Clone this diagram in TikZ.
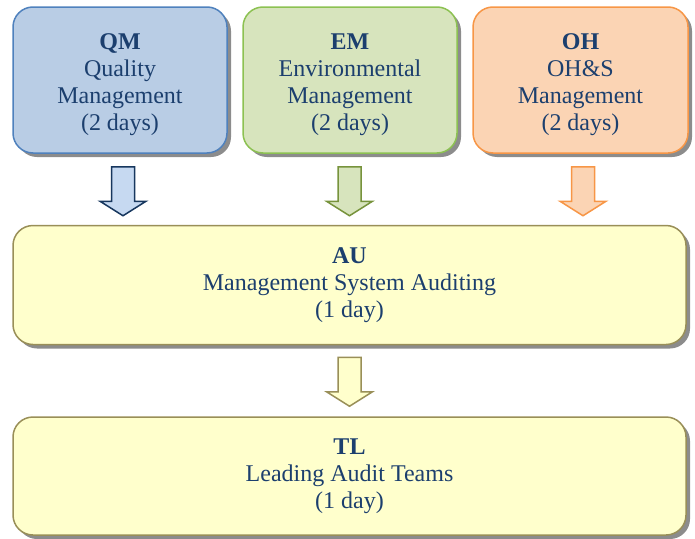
\documentclass[tikz,border=0pt]{standalone}
\usepackage{fontspec}
\setmainfont{Liberation Serif}
\usetikzlibrary{calc,shadows}
\definecolor{txt}{HTML}{1C3F6E}
\definecolor{qmfill}{HTML}{B9CDE5}\definecolor{qmline}{HTML}{4F81BD}
\definecolor{emfill}{HTML}{D7E4BD}\definecolor{emline}{HTML}{8CC152}
\definecolor{ohfill}{HTML}{FBD4B4}\definecolor{ohline}{HTML}{F79646}
\definecolor{aufill}{HTML}{FFFFCC}\definecolor{auline}{HTML}{998F58}
\definecolor{qmarr}{HTML}{C6D9F1}\definecolor{qmarrline}{HTML}{17375E}
\definecolor{emarrline}{HTML}{77933C}
\newcommand\topstrut{\rule{0pt}{25pt}}
\tikzset{
  boxbase/.style={rounded corners=20pt, line width=1.5pt, align=center, text=txt,
    font=\fontsize{24}{27}\selectfont, inner sep=0pt,
    drop shadow={shadow xshift=4pt, shadow yshift=-4pt, fill=black!50, opacity=0.9}},
  topbox/.style={boxbase, minimum width=214pt, minimum height=146pt},
  widebox/.style={boxbase, minimum width=673pt, minimum height=119pt, draw=auline, fill=aufill},
  arrbase/.style={line width=1.5pt, line join=miter}
}
\newcommand\blockarrow[3]{\draw[arrbase,#3] let \p1=(#1), \p2=(#2) in
  (\x1-11.5pt,\y1) -- (\x1+11.5pt,\y1) -- (\x1+11.5pt,\y2+14.5pt) -- (\x1+23pt,\y2+14.5pt)
  -- (\x1,\y2) -- (\x1-23pt,\y2+14.5pt) -- (\x1-11.5pt,\y2+14.5pt) -- cycle;}
\begin{document}
\begin{tikzpicture}[x=1pt,y=-1pt]
\useasboundingbox (0,0) rectangle (695,538);
\node[topbox, draw=qmline, fill=qmfill] (qm) at (120,80) {\topstrut\textbf{QM}\\Quality\\Management\\(2 days)};
\node[topbox, draw=emline, fill=emfill] (em) at (350,80) {\topstrut\textbf{EM}\\Environmental\\Management\\(2 days)};
\node[topbox, draw=ohline, fill=ohfill, minimum width=215pt] (oh) at (580.5,80) {\topstrut\textbf{OH}\\OH\&S\\Management\\(2 days)};
\node[widebox] (au) at (349.5,285) {\textbf{AU}\\Management System Auditing\\(1 day)};
\node[widebox, minimum height=118pt] (tl) at (349.5,476) {\textbf{TL}\\Leading Audit Teams\\(1 day)};
\coordinate (a1) at ($(qm.south)+(3,13)$);
\coordinate (b1) at ($(a1 |- au.north)+(0,-9)$);
\coordinate (a2) at ($(em.south)+(-0.5,13)$);
\coordinate (b2) at ($(a2 |- au.north)+(0,-9)$);
\coordinate (a3) at ($(oh.south)+(2.5,13)$);
\coordinate (b3) at ($(a3 |- au.north)+(0,-9)$);
\coordinate (a4) at ($(au.south)+(0,12)$);
\coordinate (b4) at ($(a4 |- tl.north)+(0,-10)$);
\blockarrow{a1}{b1}{draw=qmarrline, fill=qmarr}
\blockarrow{a2}{b2}{draw=emarrline, fill=emfill}
\blockarrow{a3}{b3}{draw=ohline, fill=ohfill}
\blockarrow{a4}{b4}{draw=auline, fill=aufill}
\end{tikzpicture}
\end{document}
